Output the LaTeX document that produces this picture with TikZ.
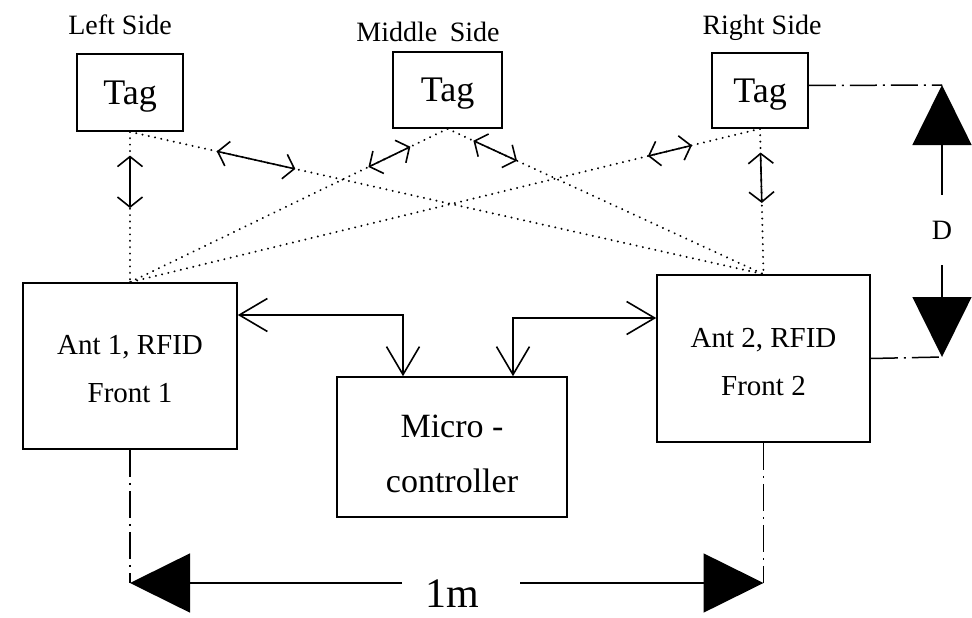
\documentclass[tikz,border=0pt]{standalone}
\usepackage{fontspec}
\setmainfont{Liberation Serif}
\usetikzlibrary{arrows.meta,calc}
\begin{document}
\begin{tikzpicture}[x=1pt,y=-1pt,
  box/.style={draw,line width=1.6pt,inner sep=0pt},
  lblfont/.style={font=\fontsize{28}{30}\selectfont},
  tagfont/.style={font=\fontsize{36}{38}\selectfont,text depth=0pt},
  antfont/.style={font=\fontsize{29}{48}\selectfont,align=center},
  micfont/.style={font=\fontsize{34}{55}\selectfont,align=center},
  dotline/.style={line width=2.2pt,line cap=round,dash pattern=on 0.01pt off 6.4pt},
  dashdot/.style={line width=1.5pt,dash pattern=on 27pt off 6pt on 2pt off 6pt},
  smallarr/.style={line width=1.6pt,{Straight Barb[length=10pt,width=25pt]}-{Straight Barb[length=10pt,width=25pt]}},
  bigarr/.style={line width=1.6pt,{Straight Barb[length=28pt,width=33pt]}-{Straight Barb[length=28pt,width=33pt]}},
  bigtri/.style={line width=1.6pt,-{Triangle[length=60pt,width=59pt]}},
]
\useasboundingbox (0,0) rectangle (972,618);

% side labels
\node[lblfont] (lbl1) at (120,25) {Left Side};
\node[lblfont] (lbl2) at (428,32) {Middle\hspace{0.45em}Side};
\node[lblfont] (lbl3) at (762,28) {Right Side};

% tags
\node[box,tagfont,minimum width=106pt,minimum height=77pt] (tag1) at (130,92.5) {Tag};
\node[box,tagfont,minimum width=109pt,minimum height=76pt] (tag2) at (447.5,90) {Tag};
\node[box,tagfont,minimum width=96pt,minimum height=75pt] (tag3) at (760,90.5) {Tag};

% antennas and controller
\node[box,minimum width=214pt,minimum height=166pt] (ant1) at (130,366) {};
\node[box,minimum width=213pt,minimum height=167pt] (ant2) at (763.5,358.5) {};
\node[box,minimum width=230pt,minimum height=140pt] (micro) at (452,447) {};
\node[antfont] (ant1txt) at (130,369) {Ant 1, RFID\\Front 1};
\node[antfont] (ant2txt) at (763.5,362) {Ant 2, RFID\\Front 2};
\node[micfont] (microtxt) at (452,454) {Micro -\\controller};

% radio paths between tags and antennas
\draw[dotline] (tag1.south) -- (ant1.north);
\draw[dotline] (tag1.south) -- (ant2.north);
\draw[dotline] (tag2.south) -- (ant1.north);
\draw[dotline] (tag2.south) -- (ant2.north);
\draw[dotline] (tag3.south) -- (ant1.north);
\draw[dotline] (tag3.south) -- (ant2.north);

\draw[smallarr] ($(tag1.south)!0.158!(ant1.north)$) -- ($(tag1.south)!0.507!(ant1.north)$);
\draw[smallarr] ($(tag3.south)!0.163!(ant2.north)$) -- ($(tag3.south)!0.51!(ant2.north)$);
\draw[smallarr] ($(tag1.south)!0.137!(ant2.north)$) -- ($(tag1.south)!0.261!(ant2.north)$);
\draw[smallarr] ($(tag2.south)!0.117!(ant1.north)$) -- ($(tag2.south)!0.249!(ant1.north)$);
\draw[smallarr] ($(tag2.south)!0.082!(ant2.north)$) -- ($(tag2.south)!0.22!(ant2.north)$);
\draw[smallarr] ($(tag3.south)!0.108!(ant1.north)$) -- ($(tag3.south)!0.178!(ant1.north)$);

% links to the microcontroller
\draw[bigarr] ([yshift=51pt]ant1.east) -| ([xshift=-49pt]micro.north);
\draw[bigarr] ([yshift=40.5pt]ant2.west) -| ([xshift=61pt]micro.north);

% vertical distance D
\coordinate (dtop) at (942,85);
\coordinate (dbot) at (942,357);
\node[lblfont,minimum height=70pt,inner sep=0pt] (dlab) at (942,230) {D};
\draw[bigtri] (dlab.north) -- (dtop);
\draw[bigtri] (dlab.south) -- (dbot);
\draw[dashdot] ([yshift=5pt]tag3.east) -- (dtop);
\draw[dashdot] (ant2.east) -- (dbot);

% horizontal distance 1m
\coordinate (lvl) at (0,583);
\coordinate (a1) at (ant1.south |- lvl);
\coordinate (a2) at (ant2.south |- lvl);
\coordinate (gl) at (402,583);
\coordinate (gr) at (520,583);
\draw[dashdot] (ant1.south) -- (a1);
\draw[dashdot] (ant2.south) -- (a2);
\draw[bigtri] (gl) -- (a1);
\draw[bigtri] (gr) -- (a2);
\node[font=\fontsize{42}{44}\selectfont] (len) at (452,594) {1m};
\end{tikzpicture}
\end{document}
